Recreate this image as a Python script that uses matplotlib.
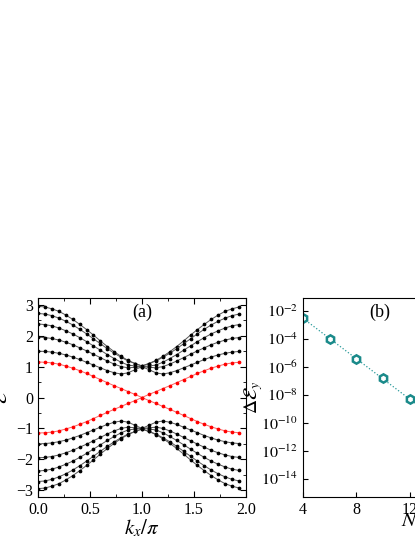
import numpy as np
import matplotlib
matplotlib.use("Agg")
import matplotlib.pyplot as plt

plt.rcParams['font.family'] = ['Liberation Serif', 'DejaVu Serif']
plt.rcParams['mathtext.fontset'] = 'stix'

# half Brillouin-zone samples, k/pi = 0 .. 1 step 1/15
k_half = [i / 15 for i in range(16)]
bands_upper_half = [
    [2.95, 2.93, 2.87, 2.79, 2.67, 2.53, 2.37, 2.20, 2.02, 1.83, 1.65, 1.48, 1.33, 1.20, 1.10, 1.02],
    [2.72, 2.70, 2.65, 2.57, 2.47, 2.35, 2.21, 2.06, 1.90, 1.74, 1.58, 1.43, 1.30, 1.18, 1.10, 1.02],
    [2.38, 2.36, 2.32, 2.25, 2.16, 2.06, 1.94, 1.81, 1.67, 1.53, 1.39, 1.26, 1.14, 1.05, 1.02, 1.00],
    [1.95, 1.94, 1.91, 1.86, 1.79, 1.71, 1.61, 1.51, 1.40, 1.29, 1.18, 1.08, 1.00, 0.96, 0.98, 1.00],
    [1.50, 1.49, 1.47, 1.43, 1.38, 1.31, 1.23, 1.14, 1.05, 0.96, 0.87, 0.80, 0.76, 0.80, 0.90, 1.00],
]
red_half = [1.15, 1.14, 1.12, 1.08, 1.02, 0.95, 0.87, 0.78, 0.68, 0.58, 0.48, 0.38, 0.29, 0.19, 0.10, 0.0]

Ny = [4, 6, 8, 10, 12]
dE = [3e-3, 1e-4, 4e-6, 1.5e-7, 5e-9]

fig = plt.figure(figsize=(4.15, 5.37), dpi=100)
W, H = 415, 537
ax = fig.add_axes([38/W, 1-497/H, (246-38)/W, (497-298)/H])

k_half = np.array(k_half)
k_full = np.concatenate([k_half, 2 - k_half[::-1][1:-1]])  # 0..1.933
def full_sym(h):
    h = np.array(h)
    return np.concatenate([h, h[::-1][1:-1]])
def full_anti(h):
    h = np.array(h)
    return np.concatenate([h, -h[::-1][1:-1]])

for b in bands_upper_half:
    for s in (1, -1):
        ax.plot(k_full, s*full_sym(b), '-', color='#555555', lw=0.7,
                marker='o', ms=1.7, mfc='black', mec='black')
r = full_anti(red_half)
for s in (1, -1):
    ax.plot(k_full, s*r, '-', color='#ff6060', lw=0.7,
            marker='o', ms=1.7, mfc='red', mec='red')

ax.set_xlim(0, 2)
ax.set_ylim(-3.22, 3.22)
ax.set_xticks([0, 0.5, 1.0, 1.5, 2.0])
ax.set_xticklabels(['0.0', '0.5', '1.0', '1.5', '2.0'])
ax.set_yticks([-3, -2, -1, 0, 1, 2, 3])
ax.set_xticks(np.arange(0.25, 2, 0.5), minor=True)
ax.set_yticks(np.arange(-2.5, 3, 1), minor=True)
ax.tick_params(direction='in', which='both', top=True, right=True, labelsize=11.5)
ax.tick_params(which='major', length=4)
ax.tick_params(which='minor', length=2)
ax.set_xlabel(r'$k_x/\pi$', fontsize=15, labelpad=0)
ax.set_ylabel(r'$\mathcal{E}$', fontsize=14)
ax.yaxis.set_label_coords(-27/208, 0.5)
ax.text(0.5, 0.93, '(a)', transform=ax.transAxes, ha='center', va='center', fontsize=13)

ax2 = fig.add_axes([303/W, 1-497/H, (463-303)/W, (497-298)/H])
ax2.set_yscale('log')
ax2.plot([4, 16], [3e-3, 3e-3*(5e-9/3e-3)**(12/8)], ':', color='#2a9a9a', lw=0.9)
ax2.plot(Ny, dE, 'h', ms=6, mfc='white', mec='#1a8a8a', mew=1.8, linestyle='none')
ax2.set_xlim(4, 16)
ax2.set_ylim(10**-15.3, 10**-1.07)
ax2.set_xticks([4, 8, 12, 16])
ax2.set_yticks([10.0**e for e in range(-14, 0, 2)])
ax2.set_yticklabels([r'$10^{%d}$' % e for e in range(-14, 0, 2)])
ax2.tick_params(direction='in', which='both', labelsize=11.5)
ax2.minorticks_off()
ax2.set_xlabel(r'$N_y$', fontsize=15, labelpad=0)
ax2.xaxis.set_label_coords(0.68, -0.07)
ax2.set_ylabel(r'$\Delta\mathcal{E}_y$', fontsize=14)
ax2.yaxis.set_label_coords(-0.24, 0.5)
ax2.text(0.48, 0.93, '(b)', transform=ax2.transAxes, ha='center', va='center', fontsize=13)

fig.savefig('out.png', dpi=100)
